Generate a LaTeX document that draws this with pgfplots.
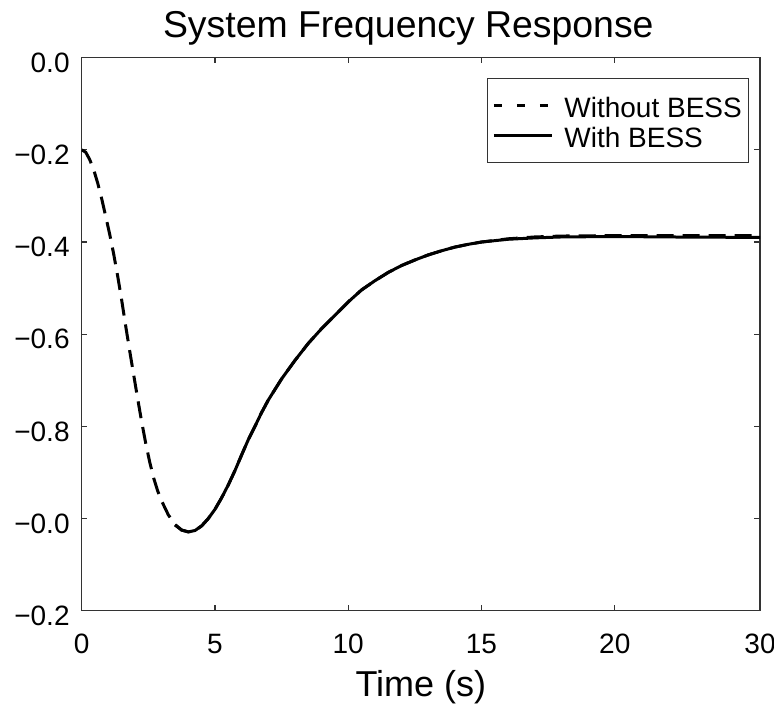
\documentclass[border=0pt]{standalone}
\usepackage{fontspec}
\setmainfont{Liberation Sans}
\usepackage{pgfplots}
\pgfplotsset{compat=1.18}

\begin{document}
\begin{tikzpicture}
\begin{axis}[
  scale only axis,
  width=339.15pt, height=276.5pt,
  xmin=0, xmax=25.45, ymin=-1.2, ymax=0,
  xtick={0,5,10,15,20,25.45},
  xticklabels={0,5,10,15,20,30},
  ytick={-1.2,-1,-0.8,-0.6,-0.4,-0.2,0},
  yticklabels={−0.2,−0.0,−0.8,−0.6,−0.4,−0.2,0.0},
  /pgf/number format/assume math mode=true,
  tick label style={font=\fontsize{14}{16}\selectfont},
  xticklabel style={anchor=base, yshift=-21.2pt},
  yticklabel style={anchor=east, inner sep=0pt, xshift=-5.85pt, yshift=-2.5pt},
  axis line style={black!80, line width=0.6pt},
  tick style={black!80, line width=0.6pt},
  major tick length=2.8pt,
  title={System Frequency Response},
  every axis title/.style={at={(axis description cs:0.4815,1)}, anchor=base,
    yshift=9.85pt, font=\fontsize{18.7}{22}\selectfont},
  xlabel={Time (s)},
  xlabel style={at={(axis description cs:0.5,0)}, anchor=base, yshift=-43pt,
    font=\fontsize{18}{21}\selectfont},
  legend style={at={(axis description cs:1,1)}, anchor=north east,
    xshift=-5.35pt, yshift=-10.3pt, draw=black!80, line width=0.5pt,
    font=\fontsize{14}{16}\selectfont, inner xsep=2.5pt, inner ysep=5.85pt,
    row sep=0pt, column sep=4.5pt,
    nodes={inner sep=1pt, text height=12.35pt, text depth=0.65pt},
    cells={anchor=west}},
  legend image code/.code={\draw[#1] (0pt,0pt) -- (29pt,0pt);},
]
\addplot[black, line width=1.5pt, dash pattern=on 8.5pt off 4.5pt,
  legend image post style={dash pattern=on 4pt off 7.5pt}] coordinates {
  (0,-0.200) (0.15,-0.205) (0.3,-0.221) (0.45,-0.243) (0.6,-0.272)
  (0.75,-0.306) (0.9,-0.344) (1.05,-0.383) (1.2,-0.426) (1.35,-0.474)
  (1.5,-0.526) (1.65,-0.582) (1.8,-0.636) (1.95,-0.688) (2.1,-0.740)
  (2.25,-0.790) (2.4,-0.836) (2.55,-0.877) (2.7,-0.912) (2.85,-0.940)
  (3.0,-0.962) (3.25,-0.992) (3.5,-1.013) (3.75,-1.025) (4.0,-1.029)
  (4.25,-1.026) (4.5,-1.016) (4.75,-1.000) (5.0,-0.980) (5.25,-0.955)
  (5.5,-0.927) (5.75,-0.896) (6.0,-0.862) (6.25,-0.829) (6.5,-0.800)
  (6.75,-0.770) (7.0,-0.743) (7.5,-0.697) (8.0,-0.657) (8.5,-0.620)
  (9.0,-0.588) (9.5,-0.559) (10.0,-0.530) (10.5,-0.504) (11.0,-0.484)
  (11.5,-0.466) (12.0,-0.451) (12.5,-0.439) (13.0,-0.428) (13.5,-0.419)
  (14.0,-0.411) (14.5,-0.405) (15.0,-0.400) (16.0,-0.393) (17.0,-0.389)
  (18.0,-0.387) (20.0,-0.386) (22.0,-0.386) (25.45,-0.386)
};
\addlegendentry{Without BESS}
\addplot[black, line width=1.5pt] coordinates {
  (3.5,-1.014) (3.75,-1.025) (4.0,-1.029) (4.25,-1.026) (4.5,-1.016)
  (4.75,-1.000) (5.0,-0.980) (5.25,-0.955) (5.5,-0.927) (5.75,-0.896)
  (6.0,-0.862) (6.25,-0.829) (6.5,-0.800) (6.75,-0.770) (7.0,-0.743)
  (7.5,-0.697) (8.0,-0.657) (8.5,-0.620) (9.0,-0.588) (9.5,-0.559)
  (10.0,-0.530) (10.5,-0.504) (11.0,-0.484) (11.5,-0.466) (12.0,-0.451)
  (12.5,-0.439) (13.0,-0.428) (13.5,-0.419) (14.0,-0.411) (14.5,-0.405)
  (15.0,-0.400) (16.0,-0.394) (17.0,-0.391) (18.0,-0.389) (20.0,-0.388)
  (22.0,-0.389) (25.45,-0.390)
};
\addlegendentry{With BESS}
\coordinate (sw) at (rel axis cs:0,0);
\coordinate (ne) at (rel axis cs:1,1);
\end{axis}
\pgfresetboundingbox
\path ([shift={(-40.85pt,-47.65pt)}]sw) rectangle ([shift={(7pt,28.85pt)}]ne);
\end{tikzpicture}
\end{document}
